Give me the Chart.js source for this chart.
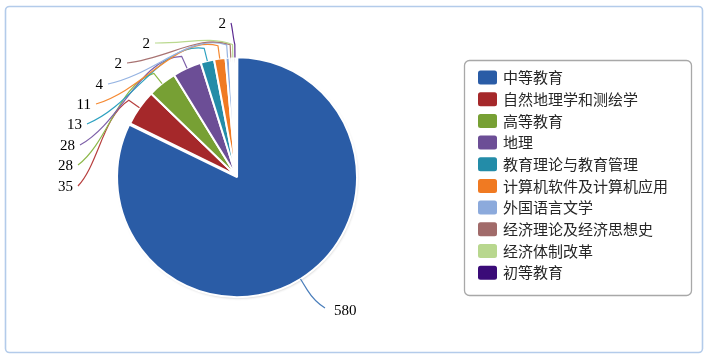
<!DOCTYPE html>
<html>
<head>
<meta charset="utf-8">
<script src="https://cdn.jsdelivr.net/npm/chart.js@4"></script>
<style>
  html, body { margin: 0; padding: 0; background: #ffffff; }
  #wrap { width: 708px; height: 360px; }
</style>
</head>
<body>
<div id="wrap"><canvas id="c" width="708" height="360"></canvas></div>
<script>
// Subject categories and their paper counts
const categories = [
  '中等教育', '自然地理学和测绘学', '高等教育', '地理', '教育理论与教育管理',
  '计算机软件及计算机应用', '外国语言文学', '经济理论及经济思想史', '经济体制改革', '初等教育'
];
const counts = [580, 35, 28, 28, 13, 11, 4, 2, 2, 2];

// Slice fills and leader-line colours
const sliceColors = [
  '#2a5ca6', '#a5282a', '#77a034', '#6c4e96', '#238ca8',
  '#f07a22', '#8caadc', '#a16b6a', '#b8d78e', '#3a0b78'
];
const leaderColors = [
  '#4a7ebb', '#b8403f', '#8db84a', '#7d5fa8', '#2ca1c0',
  '#f58a33', '#95b3e2', '#a87372', '#bad98f', '#5b2a91'
];

// Where each value label's leader line ends, relative to the pie centre,
// and how much the curve follows the rim before reaching the slice.
const labelAnchors = [
  { dx: 89, dy: 132.5, side: 'right', bend: 0 },
  { dx: -158, dy: 10.5, side: 'left', bend: 0.7 },
  { dx: -158, dy: -10.5, side: 'left', bend: 0.7 },
  { dx: -156, dy: -30.5, side: 'left', bend: 0.7 },
  { dx: -149, dy: -51.5, side: 'left', bend: 0.7 },
  { dx: -140, dy: -71.5, side: 'left', bend: 0.7 },
  { dx: -128, dy: -91.5, side: 'left', bend: 0.7 },
  { dx: -109, dy: -112.5, side: 'left', bend: 0.7 },
  { dx: -81, dy: -132.5, side: 'left', bend: 0.7 },
  { dx: -5, dy: -152.5, side: 'left', bend: 0.2 }
];

function roundRectPath(ctx, x, y, w, h, r) {
  ctx.beginPath();
  ctx.moveTo(x + r, y);
  ctx.lineTo(x + w - r, y);
  ctx.arcTo(x + w, y, x + w, y + r, r);
  ctx.lineTo(x + w, y + h - r);
  ctx.arcTo(x + w, y + h, x + w - r, y + h, r);
  ctx.lineTo(x + r, y + h);
  ctx.arcTo(x, y + h, x, y + h - r, r);
  ctx.lineTo(x, y + r);
  ctx.arcTo(x, y, x + r, y, r);
  ctx.closePath();
}

// Outer frame around the whole chart
const framePlugin = {
  id: 'frame',
  beforeDraw(chart) {
    const ctx = chart.ctx;
    ctx.save();
    ctx.fillStyle = '#ffffff';
    ctx.fillRect(0, 0, chart.width, chart.height);
    ctx.strokeStyle = '#b3cbea';
    ctx.lineWidth = 1.6;
    roundRectPath(ctx, 5.5, 6.5, 697, 346, 4);
    ctx.stroke();
    ctx.restore();
  }
};

// Soft shadow cast by each slice, painted underneath the slices
const shadowPlugin = {
  id: 'pieShadow',
  beforeDatasetsDraw(chart) {
    const ctx = chart.ctx;
    const meta = chart.getDatasetMeta(0);
    meta.data.forEach((arc, i) => {
      const p = arc.getProps(['x', 'y', 'startAngle', 'endAngle', 'outerRadius'], true);
      const mid = (p.startAngle + p.endAngle) / 2;
      const off = (arc.options.offset || 0) / 4;
      const cx = p.x + Math.cos(mid) * off, cy = p.y + Math.sin(mid) * off;
      ctx.save();
      ctx.shadowColor = 'rgba(0,0,0,0.3)';
      ctx.shadowBlur = 3;
      ctx.shadowOffsetX = 1;
      ctx.shadowOffsetY = 1.5;
      ctx.fillStyle = arc.options.backgroundColor;
      ctx.beginPath();
      ctx.moveTo(cx, cy);
      ctx.arc(cx, cy, p.outerRadius + off - 1, p.startAngle, p.endAngle);
      ctx.closePath();
      ctx.fill();
      ctx.restore();
    });
  }
};

// Curved leader lines and value labels
const leaderPlugin = {
  id: 'leaders',
  afterDatasetsDraw(chart) {
    const ctx = chart.ctx;
    const meta = chart.getDatasetMeta(0);
    const values = chart.data.datasets[0].data;
    ctx.save();
    ctx.lineWidth = 1.2;
    ctx.font = '15px "Liberation Serif", "Times New Roman", serif';
    ctx.fillStyle = '#000000';
    ctx.textBaseline = 'middle';
    meta.data.forEach((arc, i) => {
      const p = arc.getProps(['x', 'y', 'startAngle', 'endAngle', 'outerRadius'], true);
      const mid = (p.startAngle + p.endAngle) / 2;
      const off = (arc.options.offset || 0) / 4;
      const rEdge = p.outerRadius + 2 * off;
      const ux = Math.cos(mid), uy = Math.sin(mid);
      const tx = -Math.sin(mid), ty = Math.cos(mid);
      const ex = p.x + ux * rEdge, ey = p.y + uy * rEdge;
      const sx = p.x + ux * (rEdge + 13), sy = p.y + uy * (rEdge + 13);
      const a = labelAnchors[i];
      const lx = p.x + a.dx, ly = p.y + a.dy;
      const ddx = sx - lx, ddy = sy - ly;
      const dist = Math.hypot(ddx, ddy);
      const k = 0.4 * dist;
      const c1x = lx + 0.4 * ddx, c1y = ly + 0.25 * ddy;
      const w = a.bend;
      const c2x = sx + (ux * (1 - w) - tx * w) * k;
      const c2y = sy + (uy * (1 - w) - ty * w) * k;
      ctx.strokeStyle = leaderColors[i];
      ctx.beginPath();
      ctx.moveTo(lx, ly);
      ctx.bezierCurveTo(c1x, c1y, c2x, c2y, sx, sy);
      ctx.lineTo(ex, ey);
      ctx.stroke();
      const text = String(values[i]);
      if (a.side === 'left') {
        ctx.textAlign = 'right';
        ctx.fillText(text, lx - 5, ly + 1.5);
      } else {
        ctx.textAlign = 'left';
        ctx.fillText(text, lx + 9, ly + 3);
      }
    });
    ctx.restore();
  }
};

// Boxed legend on the right
const legendBoxPlugin = {
  id: 'legendBox',
  afterDraw(chart) {
    const ctx = chart.ctx;
    const ds = chart.data.datasets[0];
    ctx.save();
    ctx.strokeStyle = '#a8a8a8';
    ctx.lineWidth = 1.3;
    roundRectPath(ctx, 464.5, 60.5, 227, 235, 5);
    ctx.stroke();
    ctx.font = '15px "Noto Sans CJK SC", sans-serif';
    ctx.textBaseline = 'middle';
    ctx.textAlign = 'left';
    chart.data.labels.forEach((label, i) => {
      const cy = 77.6 + i * 21.67;
      ctx.fillStyle = ds.backgroundColor[i];
      roundRectPath(ctx, 478, cy - 7, 19, 14, 2.5);
      ctx.fill();
      ctx.fillStyle = '#262626';
      ctx.fillText(label, 503, cy);
    });
    ctx.restore();
  }
};

const sliceOffsets = counts.map((v, i) => (i === 0 ? 8 : 0));

new Chart(document.getElementById('c'), {
  type: 'pie',
  data: {
    labels: categories,
    datasets: [{
      data: counts,
      backgroundColor: sliceColors,
      borderColor: '#ffffff',
      borderWidth: 2,
      offset: sliceOffsets,
      radius: 118
    }]
  },
  options: {
    responsive: false,
    animation: false,
    layout: { padding: { left: 116, right: 352, top: 55.5, bottom: 64.5 } },
    plugins: {
      legend: { display: false },
      tooltip: { enabled: false }
    }
  },
  plugins: [framePlugin, shadowPlugin, leaderPlugin, legendBoxPlugin]
});
</script>
</body>
</html>
